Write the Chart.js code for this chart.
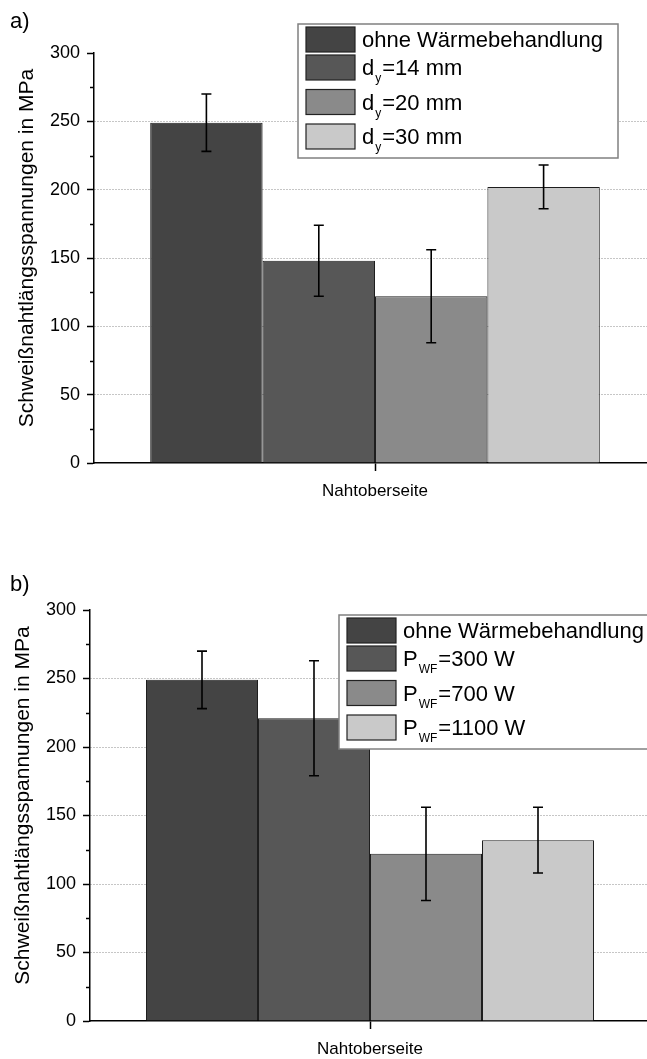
<!DOCTYPE html>
<html lang="de">
<head>
    <meta charset="UTF-8">
    <title>Schweißnahtlängsspannungen</title>
    <script src="https://cdn.jsdelivr.net/npm/chart.js"></script>
    <style>
        body {
            margin: 0;
            background: #fff;
            overflow: hidden;
        }
        .wrap {
            position: relative;
            width: 647px;
            height: 1059px;
            overflow: hidden;
        }
        .wrap canvas {
            position: absolute;
            left: 0;
        }
        #chartA { top: 0; }
        #chartB { top: 530px; }
    </style>
</head>
<body>
    <div class="wrap">
        <canvas id="chartA" width="656" height="530"></canvas>
        <canvas id="chartB" width="650" height="529"></canvas>
    </div>

    <script>
        // Daten
        const categories = ['Nahtoberseite'];
        const yTicks = [0, 50, 100, 150, 200, 250, 300];
        const minorTicks = [25, 75, 125, 175, 225, 275];
        const yTitle = 'Schweißnahtlängsspannungen in MPa';

        // a) Variation des Abstands d_y
        const legendA = [['ohne Wärmebehandlung', '', ''], ['d', 'y', '=14 mm'], ['d', 'y', '=20 mm'], ['d', 'y', '=30 mm']];
        const valuesA = [249, 148, 122, 202];
        const lowA = [228, 122, 88, 186];
        const highA = [270, 174, 156, 218];

        // b) Variation der Leistung P_WF
        const legendB = [['ohne Wärmebehandlung', '', ''], ['P', 'WF', '=300 W'], ['P', 'WF', '=700 W'], ['P', 'WF', '=1100 W']];
        const valuesB = [249, 221, 122, 132];
        const lowB = [228, 179, 88, 108];
        const highB = [270, 263, 156, 156];

        const barColors = ['#444444', '#575757', '#8a8a8a', '#c9c9c9'];
        const FONT = "'Liberation Sans', Arial, sans-serif";
        Chart.defaults.font.family = FONT;
        Chart.defaults.color = '#000';

        // Fehlerbalken, Nebenstriche, Achsentitel, Legende mit Tiefstellung
        const extrasPlugin = {
            id: 'extras',
            afterDatasetsDraw(chart) {
                const ctx = chart.ctx;
                const y = chart.scales.y;
                ctx.save();
                ctx.strokeStyle = '#000';
                ctx.lineWidth = 1.6;
                chart.data.datasets.forEach((ds, i) => {
                    const bar = chart.getDatasetMeta(i).data[0];
                    const yl = y.getPixelForValue(ds.errLow);
                    const yh = y.getPixelForValue(ds.errHigh);
                    ctx.beginPath();
                    ctx.moveTo(bar.x, yl); ctx.lineTo(bar.x, yh);
                    ctx.moveTo(bar.x - 5, yl); ctx.lineTo(bar.x + 5, yl);
                    ctx.moveTo(bar.x - 5, yh); ctx.lineTo(bar.x + 5, yh);
                    ctx.stroke();
                });
                ctx.restore();
            },
            afterDraw(chart, args, opts) {
                const ctx = chart.ctx;
                const area = chart.chartArea;
                const y = chart.scales.y;
                ctx.save();

                // Nebenstriche
                ctx.strokeStyle = '#000';
                ctx.lineWidth = 1.5;
                minorTicks.forEach(v => {
                    const py = Math.round(y.getPixelForValue(v)) + 0.5;
                    ctx.beginPath();
                    ctx.moveTo(area.left, py); ctx.lineTo(area.left - 4, py);
                    ctx.stroke();
                });

                // y-Achsentitel
                ctx.fillStyle = '#000';
                ctx.font = '21px ' + FONT;
                ctx.textAlign = 'center';
                ctx.textBaseline = 'middle';
                ctx.translate(area.left - 67, (area.top + area.bottom) / 2 - 10);
                ctx.rotate(-Math.PI / 2);
                ctx.fillText(yTitle, 0, 0);
                ctx.setTransform(1, 0, 0, 1, 0, 0);

                // Teilbild-Bezeichnung
                ctx.font = '22px ' + FONT;
                ctx.textAlign = 'left';
                ctx.textBaseline = 'alphabetic';
                ctx.fillText(opts.panel, 10, area.top + opts.panelDy);

                // Legende
                const lx = area.left + opts.legendDx;
                const ly = area.top + opts.legendDy;
                const rows = [];
                let top = ly + 3;
                chart.data.datasets.forEach((ds, i) => {
                    rows.push(top);
                    top += ds.parts[1] ? 34.5 : 28;
                });
                const lastTop = rows[rows.length - 1];
                const boxH = lastTop + 25 + 9 - ly;
                ctx.fillStyle = '#fff';
                ctx.fillRect(lx, ly, 320, boxH);
                ctx.strokeStyle = '#808080';
                ctx.lineWidth = 1.5;
                ctx.strokeRect(lx, ly, 320, boxH);
                chart.data.datasets.forEach((ds, i) => {
                    const t = rows[i];
                    ctx.fillStyle = ds.backgroundColor;
                    ctx.fillRect(lx + 8, t, 49, 25);
                    ctx.strokeStyle = '#222';
                    ctx.lineWidth = 1.2;
                    ctx.strokeRect(lx + 8, t, 49, 25);
                    const base = t + 20;
                    let tx = lx + 64;
                    ctx.fillStyle = '#000';
                    ctx.font = '22px ' + FONT;
                    ctx.fillText(ds.parts[0], tx, base);
                    tx += ctx.measureText(ds.parts[0]).width + 1;
                    if (ds.parts[1]) {
                        ctx.font = '12px ' + FONT;
                        ctx.fillText(ds.parts[1], tx, base + 7);
                        tx += ctx.measureText(ds.parts[1]).width + 1;
                        ctx.font = '22px ' + FONT;
                        ctx.fillText(ds.parts[2], tx, base);
                    }
                });
                ctx.restore();
            }
        };

        function makeChart(id, values, low, high, legend, layout) {
            const datasets = values.map((v, i) => ({
                label: legend[i].join(''),
                parts: legend[i],
                data: [v],
                errLow: low[i],
                errHigh: high[i],
                backgroundColor: barColors[i],
                borderColor: '#1e1e1e',
                borderWidth: 1
            }));
            return new Chart(document.getElementById(id), {
                type: 'bar',
                data: { labels: categories, datasets: datasets },
                options: {
                    responsive: false,
                    animation: false,
                    layout: { padding: { top: layout.top, left: 0, right: 0, bottom: 0 } },
                    datasets: { bar: { categoryPercentage: 0.8, barPercentage: 1 } },
                    plugins: {
                        legend: { display: false },
                        tooltip: { enabled: false },
                        extras: {
                            panel: layout.panel,
                            panelDy: layout.panelDy,
                            legendDx: layout.legendDx,
                            legendDy: layout.legendDy
                        }
                    },
                    scales: {
                        x: {
                            afterFit: s => { s.height = layout.xh; },
                            grid: {
                                drawOnChartArea: false,
                                offset: false,
                                tickLength: 8,
                                tickColor: '#000',
                                tickWidth: 1.5
                            },
                            border: { color: '#000', width: 1.5 },
                            ticks: { font: { size: 17 }, color: '#000', padding: 10 }
                        },
                        y: {
                            min: 0,
                            max: 300,
                            afterFit: s => { s.width = layout.yw; },
                            afterBuildTicks: s => { s.ticks = yTicks.map(v => ({ value: v })); },
                            grid: {
                                color: c => (c.tick && (c.tick.value === 0 || c.tick.value === 300)) ? 'rgba(0,0,0,0)' : '#8c8c8c',
                                lineWidth: 1,
                                tickLength: 7,
                                tickColor: '#000',
                                tickWidth: 1.5
                            },
                            border: { color: '#000', width: 1.5, dash: [1, 2] },
                            ticks: { font: { size: 18 }, color: '#000', padding: 7 }
                        }
                    }
                },
                plugins: [extrasPlugin]
            });
        }

        makeChart('chartA', valuesA, lowA, highA, legendA,
            { top: 53, xh: 67, yw: 94, panel: 'a)', panelDy: -25, legendDx: 204, legendDy: -29 });
        makeChart('chartB', valuesB, lowB, highB, legendB,
            { top: 80, xh: 38, yw: 90, panel: 'b)', panelDy: -19, legendDx: 249, legendDy: 5 });
    </script>
</body>
</html>
